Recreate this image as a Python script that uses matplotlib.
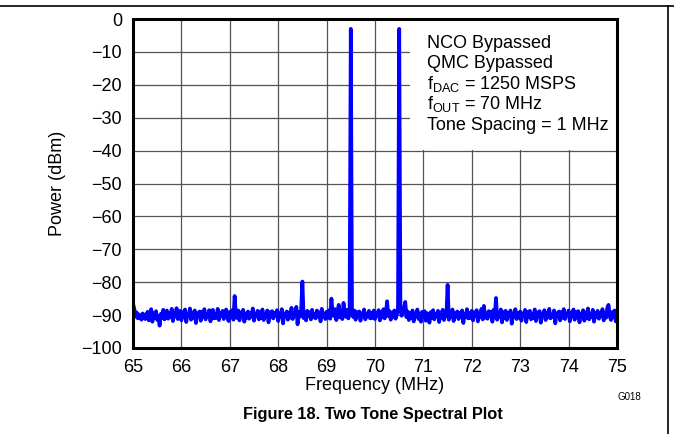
import numpy as np
import matplotlib
matplotlib.use("Agg")
import matplotlib.pyplot as plt
from matplotlib.lines import Line2D
from matplotlib.patches import Rectangle

plt.rcParams['font.family'] = ['Liberation Sans', 'DejaVu Sans']
plt.rcParams['mathtext.fontset'] = 'custom'
plt.rcParams['mathtext.rm'] = 'Liberation Sans'
plt.rcParams['mathtext.it'] = 'Liberation Sans'

# spectrum, 0.025 MHz steps from 65 to 75 MHz
freq_start = 65.0
freq_step = 0.025
power_dbm = [
    # 65 MHz
    -86.5, -88.0, -90.5, -89.2, -91.0, -89.8, -90.6, -91.4, -89.5, -90.2,
    -91.2, -90.0, -89.0, -91.6, -90.3, -88.2, -92.0, -89.4, -90.9, -88.8,
    -91.5, -90.2, -93.2, -89.6, -90.8, -88.4, -91.3, -89.9, -88.6, -91.1,
    -89.3, -90.7, -88.1, -91.8, -89.5, -90.4, -87.9, -91.2, -90.0, -88.7,
    # 66 MHz
    -91.6, -89.1, -90.5, -88.3, -92.1, -89.7, -90.2, -88.0, -91.4, -89.2,
    -90.8, -88.6, -92.4, -89.5, -90.1, -88.9, -91.7, -89.0, -90.6, -88.2,
    -91.3, -89.8, -90.4, -88.5, -91.9, -89.3, -88.4, -91.0, -89.6, -90.9,
    -88.1, -91.5, -89.4, -90.3, -88.7, -91.2, -89.9, -88.3, -90.7, -91.8,
    # 67 MHz
    -89.0, -90.6, -88.5, -91.4, -84.2, -89.7, -90.9, -88.6, -91.6, -89.2,
    -90.3, -88.4, -92.0, -89.5, -90.8, -88.9, -91.1, -89.3, -90.5, -88.0,
    -91.7, -89.6, -90.2, -88.7, -91.3, -89.0, -90.9, -88.3, -91.5, -89.8,
    -90.4, -88.6, -92.2, -89.1, -90.7, -88.8, -91.0, -89.4, -90.1, -88.5,
    # 68 MHz
    -91.8, -89.3, -90.6, -88.2, -92.5, -89.7, -90.0, -88.9, -91.4, -89.2,
    -90.8, -87.8, -91.2, -89.5, -90.3, -87.5, -92.8, -89.0, -90.5, -88.3,
    -79.8, -90.9, -89.4, -91.6, -88.7, -90.2, -89.1, -91.3, -88.4, -90.7,
    -89.8, -91.0, -88.6, -90.4, -89.2, -91.9, -88.1, -90.6, -89.5, -91.2,
    # 69 MHz
    -89.0, -90.8, -88.5, -91.1, -85.0, -89.6, -90.3, -88.2, -91.5, -89.4,
    -86.9, -90.7, -88.8, -91.2, -86.3, -89.9, -90.5, -88.4, -91.0, -89.2,
    -3.0, -89.7, -90.6, -88.6, -91.4, -89.1, -90.2, -88.9, -91.7, -89.5,
    -90.0, -88.3, -91.3, -89.8, -90.4, -88.7, -91.0, -89.3, -90.9, -88.6,
    # 70 MHz
    -91.2, -89.4, -90.1, -88.5, -91.6, -89.0, -90.7, -88.2, -91.0, -89.6,
    -85.8, -90.3, -88.8, -91.4, -89.2, -90.5, -88.6, -91.1, -89.9, -88.1,
    -3.0, -88.4, -90.2, -89.1, -87.7, -86.0, -90.6, -88.9, -91.5, -89.3,
    -90.8, -88.6, -91.9, -89.7, -90.4, -88.3, -91.2, -89.5, -92.0, -89.0,
    # 71 MHz
    -90.6, -88.8, -91.7, -89.4, -90.2, -92.3, -89.1, -90.9, -88.5, -91.3,
    -89.6, -90.4, -88.7, -92.1, -89.2, -90.8, -88.4, -91.5, -89.9, -90.3,
    -80.8, -91.4, -89.0, -90.6, -88.3, -91.8, -89.5, -90.1, -88.9, -91.2,
    -89.3, -90.7, -88.6, -92.4, -89.8, -90.5, -88.2, -91.0, -89.4, -90.9,
    # 72 MHz
    -88.7, -91.6, -89.2, -90.3, -88.5, -91.9, -89.7, -90.6, -88.1, -91.3,
    -87.2, -90.8, -89.5, -91.1, -88.8, -90.2, -89.0, -92.0, -88.4, -90.7,
    -84.8, -91.4, -89.6, -90.5, -88.3, -92.2, -89.1, -90.9, -88.7, -91.5,
    -89.4, -90.1, -88.6, -92.6, -89.8, -90.4, -88.2, -91.2, -89.3, -90.8,
    # 73 MHz
    -88.9, -91.7, -89.5, -90.2, -88.4, -92.1, -89.0, -90.6, -88.7, -91.3,
    -89.6, -90.9, -88.3, -91.8, -89.2, -90.4, -88.8, -92.3, -89.7, -90.1,
    -88.5, -91.5, -89.3, -90.7, -88.1, -91.0, -89.9, -90.5, -88.6, -92.5,
    -89.4, -90.3, -88.9, -91.6, -89.1, -90.8, -88.2, -91.2, -89.8, -90.0,
    # 74 MHz
    -88.6, -91.9, -89.5, -90.4, -88.3, -91.4, -89.0, -90.7, -88.8, -92.2,
    -89.6, -90.1, -88.5, -91.7, -89.2, -90.9, -88.0, -91.3, -89.7, -90.5,
    -88.4, -92.0, -89.3, -90.6, -88.7, -91.1, -89.9, -90.2, -88.2, -91.6,
    -89.4, -90.8, -87.8, -86.9, -90.3, -91.5, -89.1, -90.7, -88.6, -91.9,
    # 75 MHz
    -89.2,
]
freq_mhz = freq_start + freq_step * np.arange(len(power_dbm))

xticks = [65, 66, 67, 68, 69, 70, 71, 72, 73, 74, 75]
yticks = [0, -10, -20, -30, -40, -50, -60, -70, -80, -90, -100]
notes = ["NCO Bypassed", "QMC Bypassed",
         r"f$_{\mathrm{DAC}}$ = 1250 MSPS",
         r"f$_{\mathrm{OUT}}$ = 70 MHz",
         "Tone Spacing = 1 MHz"]

W, H = 674, 434
fig = plt.figure(figsize=(W / 100, H / 100), dpi=100)
ax = fig.add_axes([133 / W, 1 - 348 / H, 484 / W, 329 / H])

ax.plot(freq_mhz, power_dbm, color="#0000ff", lw=2.7, zorder=3)

ax.set_xlim(65, 75)
ax.set_ylim(-100, 0)
ax.set_xticks(xticks)
ax.set_yticks(yticks)
ax.set_yticklabels([str(v).replace("-", "\u2212") for v in yticks])
ax.tick_params(length=0, labelsize=13, pad=8)
ax.grid(True, color="#555555", lw=0.9, zorder=1)
ax.set_axisbelow(True)
for s in ax.spines.values():
    s.set_linewidth(2.2)
    s.set_zorder(5)

# white note box in upper right
ax.add_patch(Rectangle((70.72, -39.7), 75 - 70.72, 39.7, facecolor="white",
                       edgecolor="none", zorder=2.5))
for i, t in enumerate(notes):
    fig.text(427 / W, 1 - (48 + 20.4 * i) / H, t, fontsize=13,
             ha="left", va="baseline")

fig.text(58 / W, 1 - 183.5 / H, "Power (dBm)", rotation=90, fontsize=13,
         ha="center", va="center")
fig.text(375 / W, 1 - 385 / H, "Frequency (MHz)", fontsize=13,
         ha="center", va="center")
fig.text(617 / W, 1 - 397 / H, "G018", fontsize=7, ha="left", va="center")
fig.text(373 / W, 1 - 415 / H, "Figure 18. Two Tone Spectral Plot",
         fontsize=11.8, fontweight="bold", ha="center", va="center")

# page frame lines
fig.add_artist(Line2D([0, 1], [1 - 6 / H, 1 - 6 / H], color="black", lw=1.2))
fig.add_artist(Line2D([668 / W, 668 / W], [0, 1 - 6 / H], color="black", lw=1.2))

fig.savefig("out.png", dpi=100)
